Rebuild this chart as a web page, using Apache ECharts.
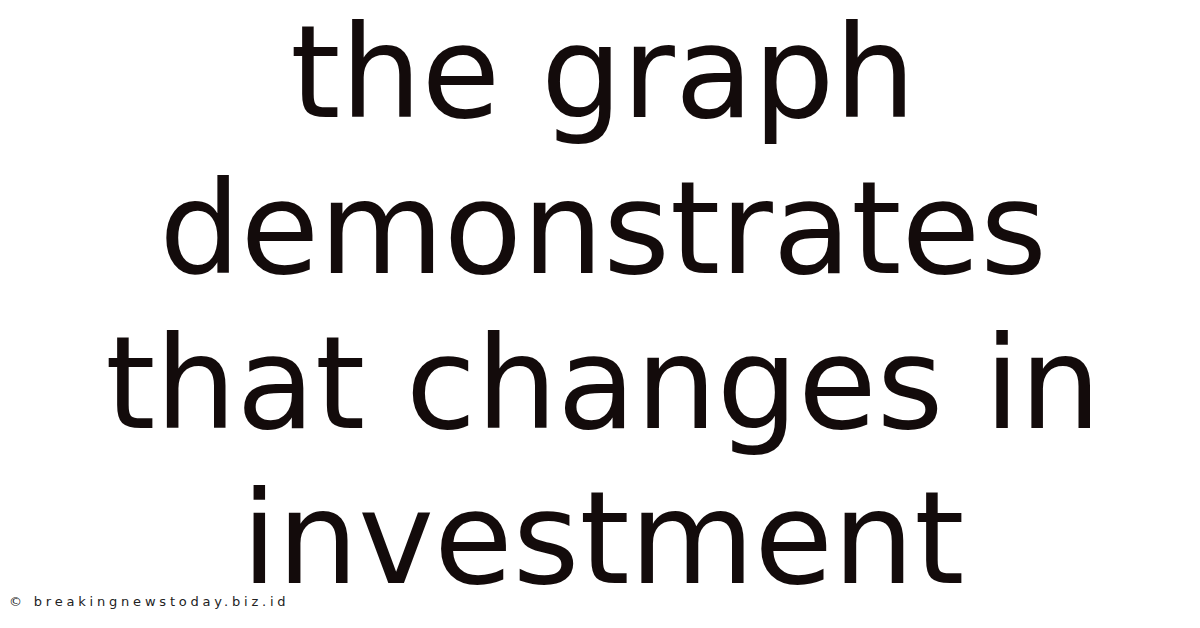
<!DOCTYPE html>
<html>
<head>
<meta charset="utf-8">
<script src="https://cdn.jsdelivr.net/npm/echarts@6/dist/echarts.min.js"></script>
<style>
  html, body { margin: 0; padding: 0; background: #fff; }
  #chart { width: 1200px; height: 628px; }
  /* the watermark is the last text node, it is spaced out */
  #chart svg text:last-of-type { letter-spacing: 3.8px; }
</style>
</head>
<body>
<div id="chart"></div>
<script>
// headline lines and watermark text
const headlineLines = ['the graph', 'demonstrates', 'that changes in', 'investment'];
const watermarkText = '\u00a9 breakingnewstoday.biz.id';

const chart = echarts.init(document.getElementById('chart'), null, { renderer: 'svg' });

// one text element per headline line, centred, ~155px apart
const lineY = [72, 228, 383, 538];
const elements = headlineLines.map((line, i) => ({
    type: 'text',
    x: 603,
    y: lineY[i],
    style: {
        text: line,
        fill: '#130b0b',
        font: '128px "DejaVu Sans"',
        align: 'center',
        verticalAlign: 'middle'
    }
}));

elements.push({
    type: 'text',
    x: 9,
    y: 601,
    style: {
        text: watermarkText,
        fill: '#222222',
        font: '500 13px "DejaVu Sans"',
        align: 'left',
        verticalAlign: 'middle'
    }
});

chart.setOption({
    backgroundColor: '#ffffff',
    animation: false,
    graphic: { elements: elements }
});
</script>
</body>
</html>
